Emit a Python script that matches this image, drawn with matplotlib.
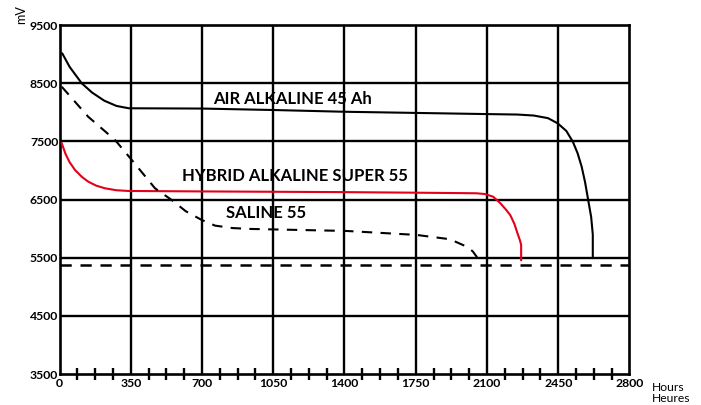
import numpy as np
import matplotlib
matplotlib.use("Agg")
import matplotlib.pyplot as plt

plt.rcParams['font.family'] = ['Lato', 'DejaVu Sans']

# discharge curves, hours vs mV
air_h = [14, 50, 109, 160, 220, 280, 340, 700, 1050, 1400, 1750, 2100, 2250, 2330, 2400,
         2448, 2490, 2522, 2545, 2565, 2582, 2597, 2612, 2620, 2620]
air_mv = [9010, 8780, 8500, 8340, 8200, 8110, 8070, 8065, 8040, 8010, 7990, 7970, 7962, 7945, 7900,
          7810, 7680, 7495, 7300, 7070, 6800, 6500, 6200, 5900, 5500]

hyb_h = [11, 30, 50, 76, 110, 141, 180, 223, 280, 338, 700, 936, 1400, 1754, 2000, 2049,
         2090, 2130, 2165, 2195, 2215, 2235, 2250, 2262, 2268, 2268]
hyb_mv = [7467, 7280, 7140, 7009, 6890, 6808, 6740, 6694, 6660, 6648, 6640, 6636, 6628, 6618, 6610, 6608,
          6595, 6550, 6440, 6320, 6230, 6080, 5920, 5800, 5720, 5460]

sal_h = [11, 141, 273, 362, 469, 551, 620, 698, 764, 850, 936, 1411, 1754, 1918, 2000, 2030, 2049, 2058]
sal_mv = [8440, 7924, 7524, 7151, 6694, 6493, 6300, 6150, 6052, 6010, 5995, 5960, 5892, 5818, 5691, 5610, 5520, 5430]

cutoff_mv = 5375

x_major = [0, 350, 700, 1050, 1400, 1750, 2100, 2450, 2800]
y_major = [3500, 4500, 5500, 6500, 7500, 8500, 9500]

fig = plt.figure(figsize=(7.01, 4.05), dpi=100)
ax = fig.add_axes([0.0849, 0.0765, 0.813, 0.8615])

ax.set_xlim(0, 2800)
ax.set_ylim(3500, 9500)

# grid
for xv in x_major[1:-1]:
    ax.axvline(xv, color='black', lw=1.7, zorder=1)
for yv in y_major[1:-1]:
    ax.axhline(yv, color='black', lw=1.7, zorder=1)

for s in ax.spines.values():
    s.set_linewidth(1.9)

ax.plot(air_h, air_mv, color='black', lw=1.5, zorder=3)
ax.plot(hyb_h, hyb_mv, color='#e2001a', lw=1.5, zorder=3)
ax.plot(sal_h, sal_mv, color='black', lw=1.5, ls=(0, (5, 4)), zorder=3)
ax.plot([0, 2800], [cutoff_mv, cutoff_mv], color='black', lw=1.8, ls=(0, (4.5, 3.5)), zorder=3)

ax.text(754, 8230, 'AIR ALKALINE 45 Ah', fontsize=12, fontweight='bold', va='center', ha='left')
ax.text(603, 6911, 'HYBRID ALKALINE SUPER 55', fontsize=12, fontweight='bold', va='center', ha='left')
ax.text(818, 6270, 'SALINE 55', fontsize=12, fontweight='bold', va='center', ha='left')

# ticks
ax.set_xticks(x_major)
ax.set_xticklabels([str(v) for v in x_major], fontweight='bold', fontsize=8.8)
ax.tick_params(axis='x', which='major', length=0, pad=3)
ax.set_yticks(y_major)
ax.set_yticklabels([str(v) for v in y_major], fontweight='bold', fontsize=8.8)
ax.tick_params(axis='y', which='major', length=0, pad=1)

# small ticks across the bottom axis, quarters of each 350 h step
minor = [m + k * 87.5 for m in x_major[:-1] for k in (1, 2, 3)]
ax.plot(minor, [3500] * len(minor), ls='none', marker='|', ms=8, mew=1.7,
        color='black', clip_on=False, zorder=5)

fig.text(0.930, 0.044, 'Hours', fontsize=8.7, ha='left', va='center')
fig.text(0.930, 0.017, 'Heures', fontsize=8.7, ha='left', va='center')
fig.text(0.030, 0.963, 'mV', fontsize=9, rotation=90, ha='center', va='center')

fig.savefig('out.png', dpi=100)
